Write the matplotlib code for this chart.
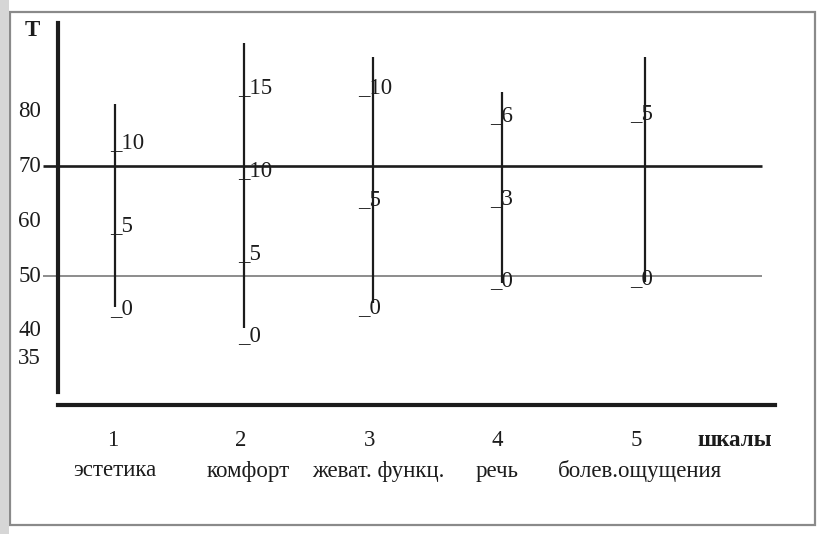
import matplotlib
matplotlib.use('Agg')
import matplotlib.pyplot as plt
from matplotlib.patches import Rectangle

# ---------------- data ----------------
scale_numbers = ['1', '2', '3', '4', '5']
scale_names = ['эстетика', 'комфорт', 'жеват. функц.', 'речь', 'болев.ощущения']
axis_word = 'шкалы'
t_ticks = [80, 70, 60, 50, 40, 35]
raw_labels = [[0, 5, 10], [0, 5, 10, 15], [0, 5, 10], [0, 3, 6], [0, 5]]
raw_t = [[42.7, 57.8, 72.9], [37.8, 52.6, 67.8, 82.9], [42.9, 62.5, 82.9],
         [47.8, 62.7, 77.8], [48.0, 78.0]]
line_low = [44.4, 40.5, 45.1, 48.7, 48.9]
line_high = [81.3, 92.4, 89.8, 83.5, 89.8]
ref_strong = 70
ref_weak = 50

# ---------------- layout ----------------
W, H = 821, 534
PX_X = 129.0   # pixels per scale step
PX_T = 5.5     # pixels per T unit
X0, T0_PX = 115, 166  # pixel of scale 1 / of T=70

def dx(px):
    return px / PX_X

def dy(px):
    return px / PX_T

scale_x = [1, 2, 3, 4, 5.11]
tick_shift_px = [-5, -6, -15, -12, -15]
number_shift_px = [-2, -3, -3, -5, -9]
name_shift_px = [0, 4, 5, -5, -5]

FONT = ['Liberation Serif', 'DejaVu Serif']
FS = 16.5
INK = '#1c1c1c'

fig = plt.figure(figsize=(W / 100, H / 100), dpi=100)
fig.patch.set_facecolor('white')
ax = fig.add_axes([0, 0, 1, 1])
ax.set_xlim(1 - dx(X0), 1 + dx(W - X0))
ax.set_ylim(70 - dy(H - T0_PX), 70 + dy(T0_PX))
ax.set_facecolor('white')
ax.set_xticks([])
ax.set_yticks([])

# frame of the scanned figure
fig.patches.append(Rectangle((10 / W, 1 - 525 / H), 805 / W, 513 / H,
                             transform=fig.transFigure, fill=False,
                             edgecolor='#8a8a8a', linewidth=1.6, zorder=0))
fig.patches.append(Rectangle((0, 0), 9 / W, 1, transform=fig.transFigure,
                             facecolor='#d6d6d6', edgecolor='none', zorder=0))

# main axes (spines)
left_x = 1 - dx(X0 - 58)
bottom_t = 70 - dy(405 - T0_PX)
for s in ['top', 'right']:
    ax.spines[s].set_visible(False)
ax.spines['left'].set_position(('data', left_x))
ax.spines['left'].set_bounds(70 - dy(392 - T0_PX), 70 + dy(T0_PX - 23))
ax.spines['left'].set_linewidth(3.0)
ax.spines['left'].set_color(INK)
ax.spines['bottom'].set_position(('data', bottom_t))
ax.spines['bottom'].set_bounds(left_x, 1 + dx(775 - X0))
ax.spines['bottom'].set_linewidth(3.0)
ax.spines['bottom'].set_color(INK)

# reference lines
x_ref0 = 1 - dx(X0 - 43)
x_ref1 = 1 + dx(762 - X0)
ax.hlines(ref_strong, x_ref0, x_ref1, color=INK, linewidth=1.9, zorder=2)
ax.hlines(ref_weak, x_ref0, x_ref1, color='#8c8c8c', linewidth=1.4, zorder=2)

# T axis labels
for t in t_ticks:
    ax.text(1 - dx(X0 - 41), t, str(t), ha='right', va='center',
            fontsize=FS, family=FONT, color=INK)
ax.text(1 - dx(X0 - 32), 70 + dy(T0_PX - 30), 'T', ha='center', va='center',
        fontsize=FS, family=FONT, fontweight='bold', color=INK)

# scales
for i in range(len(scale_names)):
    x = scale_x[i]
    ax.vlines(x, line_low[i], line_high[i], color=INK, linewidth=1.6, zorder=3)
    for lab, t in zip(raw_labels[i], raw_t[i]):
        ax.text(x + dx(tick_shift_px[i]), t + dy(2.5), '_' + str(lab),
                ha='left', va='baseline', fontsize=FS, family=FONT,
                color=INK, zorder=4)
    ax.text(x + dx(number_shift_px[i]), 70 - dy(440 - T0_PX), scale_numbers[i],
            ha='center', va='center', fontsize=FS, family=FONT, color=INK)
    ax.text(x + dx(name_shift_px[i]), 70 - dy(471 - T0_PX), scale_names[i],
            ha='center', va='center', fontsize=FS, family=FONT, color=INK)

ax.text(1 + dx(735 - X0), 70 - dy(440 - T0_PX), axis_word, ha='center',
        va='center', fontsize=FS, family=FONT, fontweight='bold', color=INK)

fig.savefig('out.png', dpi=100, facecolor='white')
